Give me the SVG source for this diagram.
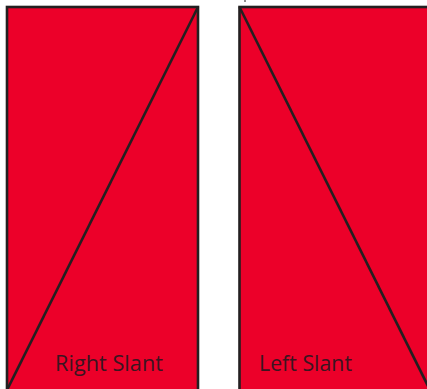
<svg xmlns="http://www.w3.org/2000/svg" width="427" height="389" viewBox="0 0 427 389">
<style>
.panel{fill:#ec0029;stroke:#231f20;stroke-width:2.6}
.diag{stroke:#231f20;stroke-width:2.6;fill:none}
.lbl{font-family:"Open Sans","Noto Sans","Liberation Sans",sans-serif;font-size:21px;fill:#3a1520}
</style>
<rect width="427" height="389" fill="#ffffff"/>
<g id="right-slant">
<rect class="panel" x="7" y="7" width="191" height="390"/>
<line class="diag" x1="7" y1="390" x2="198" y2="7"/>
<text class="lbl" x="55" y="371" textLength="108" lengthAdjust="spacingAndGlyphs">Right Slant</text>
</g>
<g id="left-slant">
<rect class="panel" x="239.5" y="7" width="191" height="390"/>
<line class="diag" x1="239.5" y1="7" x2="430" y2="390"/>
<text class="lbl" x="259" y="371" textLength="93" lengthAdjust="spacingAndGlyphs">Left Slant</text>
</g>
<path d="M245 0V2" stroke="#231f20" stroke-width="1"/>
</svg>
